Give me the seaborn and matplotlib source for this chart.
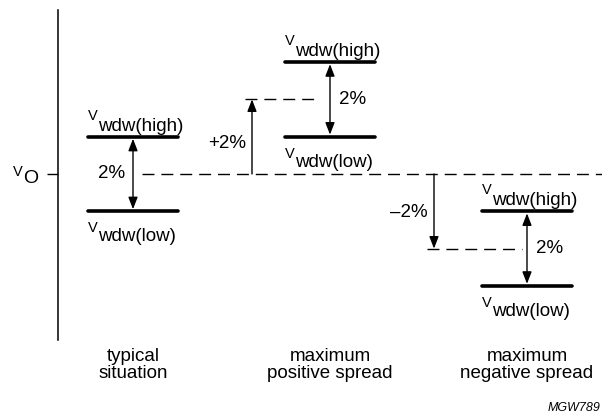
import matplotlib
matplotlib.use('Agg')
import matplotlib.pyplot as plt
import seaborn as sns
import pandas as pd

# three cases: where the window centre sits relative to V_O (percent)
cases = ['typical\nsituation', 'maximum\npositive spread', 'maximum\nnegative spread']
shifts = [0, 2, -2]
shift_labels = ['', '+2%', '\u20132%']
window = 2            # window width, percent
window_label = '2%'
level_names = ['wdw(high)', 'wdw(low)']

sns.set_theme(style='white')
plt.rcParams['font.family'] = ['Liberation Sans', 'DejaVu Sans']
plt.rcParams['text.color'] = 'black'

PX = 1 / 197.0   # x data units per pixel
PY = 1 / 37.3    # percent per pixel
PT = 0.72        # points per pixel

half = window / 2
rows = []
for i, s in enumerate(shifts):
    for name, lvl in zip(level_names, (s + half, s - half)):
        for dx in (-45, 45):
            rows.append({'seg': f'{i}-{name}', 'x': i + dx * PX, 'y': lvl})
levels = pd.DataFrame(rows)

fig = plt.figure(figsize=(6.02, 4.16), dpi=100, facecolor='white')
ax = fig.add_axes([0, 0, 1, 1])
ax.set_facecolor('white')

sns.lineplot(data=levels, x='x', y='y', units='seg', estimator=None,
             color='black', lw=2.6, legend=False, ax=ax)

ax.set_xlim(-133 * PX, 469 * PX)
ax.set_ylim(-242 * PY, 174 * PY)

# vertical axis with the V_O tick
sns.despine(ax=ax, left=False, bottom=True)
ax.spines['left'].set_position(('data', -75 * PX))
ax.spines['left'].set_bounds(-166 * PY, 164 * PY)
ax.spines['left'].set_color('black')
ax.spines['left'].set_linewidth(1.1)
ax.set_xticks([])
ax.set_yticks([0])
ax.set_yticklabels([''])
ax.tick_params(axis='y', left=True, length=8, width=1, color='black', direction='out')
ax.set_xlabel('')
ax.set_ylabel('')

dash = dict(color='black', lw=1, linestyle=(0, (8.6, 5.0)))
ax.hlines(0, 9 * PX, 480 * PX, **dash)

def sub_label(x, y, sub, v_dy, sub_dy, sub_size=13.5):
    ax.annotate('V', (x, y), xytext=(-45 * PT, v_dy * PT), textcoords='offset points',
                fontsize=10.5, ha='left', va='baseline')
    ax.annotate(sub, (x, y), xytext=(-35 * PT, sub_dy * PT), textcoords='offset points',
                fontsize=sub_size, ha='left', va='baseline')

sub_label(-75 * PX, 0, 'O', -2, -9, sub_size=14)

head = dict(color='black', lw=1, shrinkA=1.5, shrinkB=1.5, mutation_scale=20)
shift_dx = [None, (-78, -85, -10, -7), (-93, -100, -5, -1)]
for i, s in enumerate(shifts):
    hi, lo = s + half, s - half
    sub_label(i, hi, level_names[0], 17, 6)
    sub_label(i, lo, level_names[1], -21, -30)
    ax.annotate('', xy=(i, lo), xytext=(i, hi),
                arrowprops=dict(arrowstyle='<|-|>,head_length=0.36,head_width=0.14', **head))
    if i == 0:
        ax.annotate(window_label, (i, s), xytext=(-8 * PT, 0), textcoords='offset points',
                    fontsize=13.5, ha='right', va='center')
    else:
        ax.annotate(window_label, (i, s), xytext=(9 * PT, 0), textcoords='offset points',
                    fontsize=13.5, ha='left', va='center')
    if s:
        ax_dx, d0, d1, ty = shift_dx[i]
        ax.hlines(s, i + d0 * PX, i + d1 * PX, **dash)
        ax.annotate('', xy=(i + ax_dx * PX, s), xytext=(i + ax_dx * PX, 0),
                    arrowprops=dict(arrowstyle='-|>,head_length=0.36,head_width=0.14',
                                    color='black', lw=1, shrinkA=0, shrinkB=0, mutation_scale=20))
        ax.annotate(shift_labels[i], (i + ax_dx * PX, s / 2), xytext=(-6 * PT, ty * PT),
                    textcoords='offset points', fontsize=13.5, ha='right', va='center')
    ax.text(i, -191 * PY, cases[i], fontsize=13.5, ha='center', va='center', linespacing=1.0)

ax.text((600 - 133) * PX, -234 * PY, 'MGW789', fontsize=9, style='italic', ha='right', va='center')

fig.savefig('out.png', dpi=100, facecolor='white')
